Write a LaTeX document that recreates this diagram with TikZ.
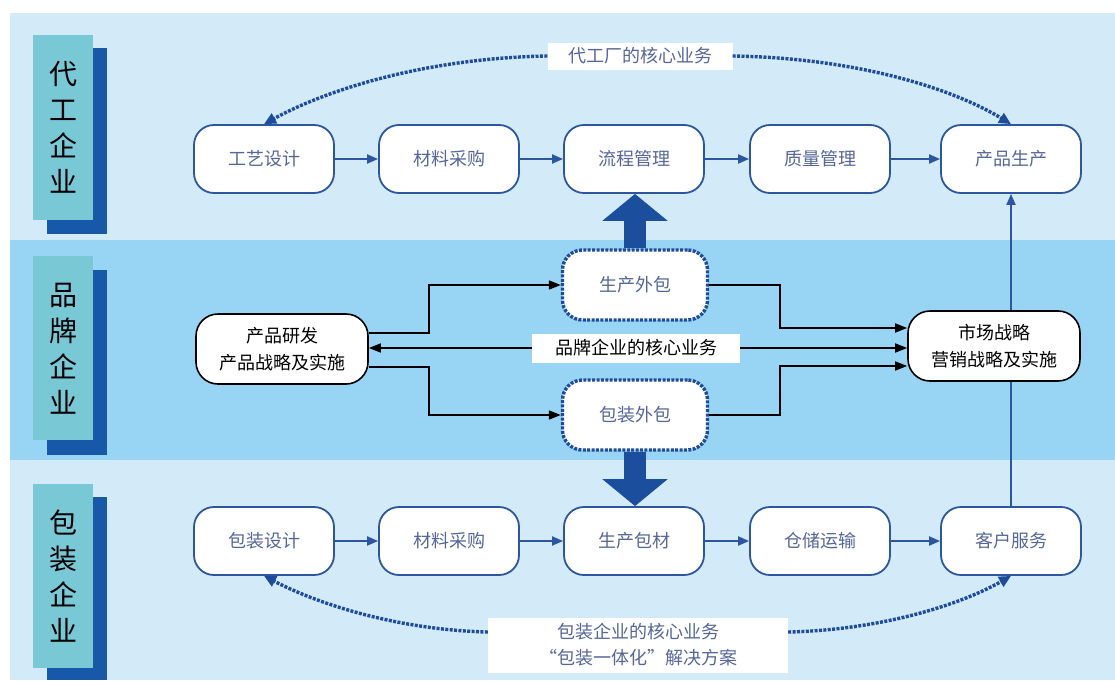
\documentclass[tikz,border=0pt]{standalone}
\usepackage{fontspec}
\setmainfont{Noto Sans CJK SC}
\usetikzlibrary{arrows.meta,calc}
\definecolor{bandlight}{HTML}{D3EBF8}
\definecolor{bandmid}{HTML}{98D4F4}
\definecolor{tealbox}{HTML}{78C8D6}
\definecolor{shadowblue}{HTML}{1858A8}
\definecolor{nodeblue}{HTML}{2D56A2}
\definecolor{txtblue}{HTML}{56669A}
\definecolor{thickblue}{HTML}{1C4E9E}
\definecolor{dotblue}{HTML}{1F4B9C}
\begin{document}
\begin{tikzpicture}[x=1pt,y=-1pt,
  proc/.style={draw=nodeblue, line width=1.8pt, fill=white, rounded corners=20pt,
    minimum width=140pt, minimum height=68pt, text=txtblue,
    font=\fontsize{18}{22}\selectfont, inner sep=0pt},
  outsrc/.style={draw=dotblue, line width=3.4pt, dash pattern=on 3pt off 1.4pt,
    fill=white, rounded corners=20pt, minimum width=145pt, minimum height=70pt,
    text=txtblue, font=\fontsize{18}{22}\selectfont, inner sep=0pt},
  brand/.style={draw=black, line width=1.6pt, fill=white, rounded corners=22pt,
    minimum width=172pt, minimum height=70pt, text=black, align=center,
    font=\fontsize{18}{27}\selectfont, inner sep=0pt},
  sidelabel/.style={align=center, text=black, font=\fontsize{28}{36}\selectfont, inner sep=0pt},
  tagbox/.style={fill=white, inner sep=0pt, font=\fontsize{18}{26}\selectfont, align=center},
  flow/.style={nodeblue, line width=2pt, -{Triangle[length=11pt,width=9pt]}},
  bflow/.style={black, line width=1.6pt, -{Triangle[length=12pt,width=9pt]}},
  dotarc/.style={dotblue, line width=3.4pt, dash pattern=on 3pt off 1.4pt, -{Triangle[length=12pt,width=11pt]}},
  bigarrow/.style={thickblue, line width=22pt, -{Triangle[length=27pt,width=64pt]}}
]
\useasboundingbox (0,0) rectangle (1115,680);
% background bands
\fill[white] (0,0) rectangle (1115,680);
\fill[bandlight] (10,13) rectangle (1115,240);
\fill[bandmid] (10,240) rectangle (1115,460);
\fill[bandlight] (10,460) rectangle (1115,680);

% side labels
\fill[shadowblue] (47,48) rectangle (107,234);
\fill[tealbox] (33,35) rectangle (93,220);
\node[sidelabel] (s1) at (63,127) {代\\工\\企\\业};
\fill[shadowblue] (47,270) rectangle (107,455);
\fill[tealbox] (33,256) rectangle (93,440);
\node[sidelabel] (s2) at (63,349) {品\\牌\\企\\业};
\fill[shadowblue] (47,497) rectangle (107,680);
\fill[tealbox] (33,484) rectangle (93,668);
\node[sidelabel] (s3) at (63,576) {包\\装\\企\\业};

% top row
\node[proc] (n1) at (264,159) {工艺设计};
\node[proc] (n2) at (449,159) {材料采购};
\node[proc] (n3) at (634,159) {流程管理};
\node[proc] (n4) at (820,159) {质量管理};
\node[proc] (n5) at (1011,159) {产品生产};

% bottom row
\node[proc] (b1) at (264,541) {包装设计};
\node[proc] (b2) at (449,541) {材料采购};
\node[proc] (b3) at (634,541) {生产包材};
\node[proc] (b4) at (820,541) {仓储运输};
\node[proc] (b5) at (1011,541) {客户服务};

% middle
\node[outsrc] (po1) at (635,285) {生产外包};
\node[outsrc] (po2) at (635,415) {包装外包};
\node[brand] (rd) at (282,349) {产品研发\\产品战略及实施};
\node[brand] (mk) at (994,346) {市场战略\\营销战略及实施};
\node[tagbox, minimum width=208pt, minimum height=29pt, text=black] (core) at (636,348) {品牌企业的核心业务};

% tags
\node[tagbox, minimum width=185pt, minimum height=27pt, text=txtblue] (tagtop) at (640,56) {代工厂的核心业务};
\node[tagbox, minimum width=300pt, minimum height=55pt, text=txtblue] (tagbot) at (638,645) {包装企业的核心业务\\“包装一体化”解决方案};

% row flows
\draw[flow] (n1) -- (n2);
\draw[flow] (n2) -- (n3);
\draw[flow] (n3) -- (n4);
\draw[flow] (n4) -- (n5);
\draw[flow] (b1) -- (b2);
\draw[flow] (b2) -- (b3);
\draw[flow] (b3) -- (b4);
\draw[flow] (b4) -- (b5);

% vertical blue link
\draw[nodeblue, line width=2pt] (b5.north) -- (b5.north |- mk.south);
\draw[flow] (mk.north -| n5.south) -- (n5.south);

% black connectors
\draw[bflow] ($(rd.east)+(0,-16)$) -- ++(60,0) |- (po1.west);
\draw[bflow] ($(rd.east)+(0,18)$) -- ++(60,0) |- (po2.west);
\draw[bflow] (core.west) -- (core.west -| rd.east);
\draw[bflow] (core.east) -- (core.east -| mk.west);
\draw[bflow] (po1.east) -- ++(71,0) |- ($(mk.west)+(0,-18)$);
\draw[bflow] (po2.east) -- ++(71,0) |- ($(mk.west)+(0,20)$);

% thick arrows
\draw[bigarrow] (po1.north) -- (po1.north |- n3.south);
\draw[bigarrow] (po2.south) -- (po2.south |- b3.north);

% dotted arcs
\draw[dotarc] (tagtop.west) .. controls (430,58) and (330,88) .. (n1.north);
\draw[dotarc] (tagtop.east) .. controls (860,58) and (955,90) .. (n5.north);
\draw[dotarc] ($(tagbot.west)+(0,-13)$) .. controls (400,630) and (320,605) .. (b1.south);
\draw[dotarc] ($(tagbot.east)+(0,-13)$) .. controls (880,630) and (960,605) .. (b5.south);
\end{tikzpicture}
\end{document}
